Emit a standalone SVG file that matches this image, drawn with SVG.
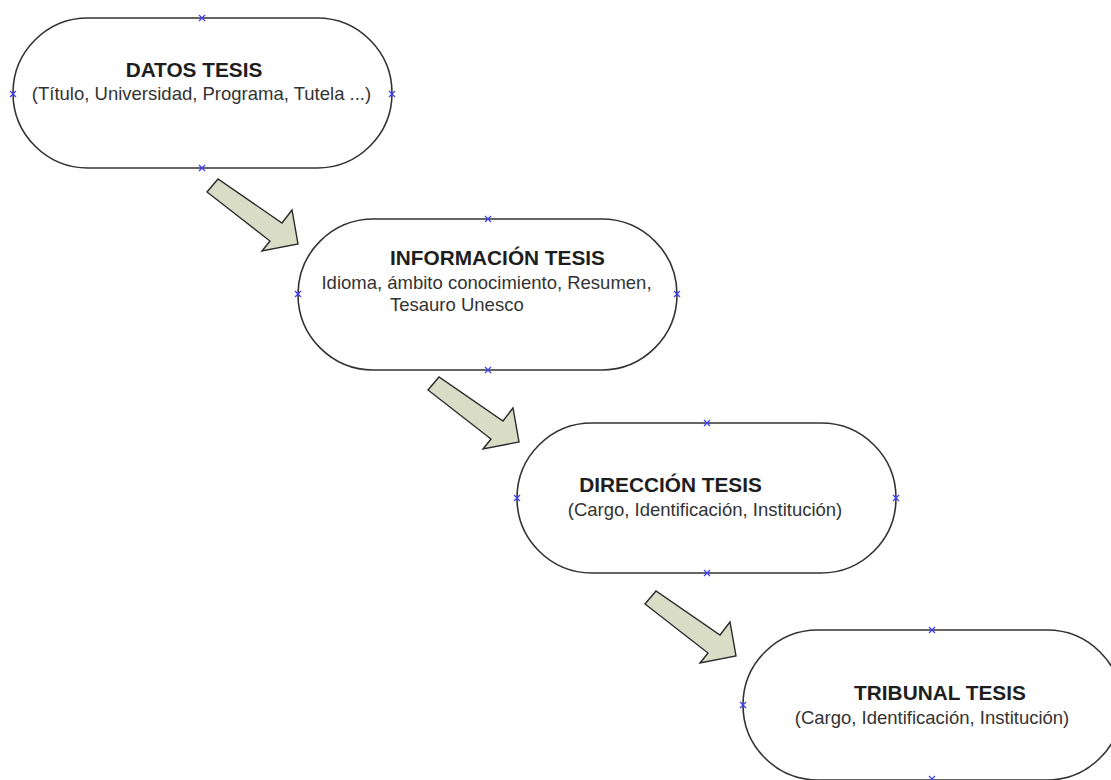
<svg xmlns="http://www.w3.org/2000/svg" xmlns:xlink="http://www.w3.org/1999/xlink" width="1111" height="780" viewBox="0 0 1111 780">
<style>
.node{fill:#ffffff;stroke:#333333;stroke-width:1.6}
.arrow{fill:#d9ddc6;stroke:#2a2a2a;stroke-width:1.4;stroke-linejoin:miter}
.title{font-family:"Liberation Sans",Arial,sans-serif;font-weight:bold;font-size:20.8px;fill:#1e1e1e;text-anchor:middle}
.sub{font-family:"Liberation Sans",Arial,sans-serif;font-size:18.5px;fill:#333333}
.mid{text-anchor:middle}
.xm{stroke:#3b3bff;stroke-width:1.2;fill:none}
</style>
<defs>
<path id="xm" class="xm" d="M-3,-3L3,3M-3,3L3,-3"/>
<polygon id="blk" class="arrow" points="207,192 218,179 282,223 292,210 298,244 262,251 270,241"/>
</defs>
<g id="connectors">
<use xlink:href="#blk"/>
<use xlink:href="#blk" transform="translate(221,198)"/>
<use xlink:href="#blk" transform="translate(438,412)"/>
</g>
<g id="node-datos">
<rect class="node" x="13" y="18" width="379" height="150" rx="75" ry="75"/>
<text class="title" x="194" y="77">DATOS TESIS</text>
<text class="sub mid" x="201.5" y="100">(Título, Universidad, Programa, Tutela ...)</text>
<use xlink:href="#xm" x="202" y="18"/><use xlink:href="#xm" x="202" y="168"/><use xlink:href="#xm" x="13" y="94"/><use xlink:href="#xm" x="392" y="94"/>
</g>
<g id="node-informacion">
<rect class="node" x="298" y="219" width="379" height="151" rx="75.5" ry="75.5"/>
<text class="title" x="497.5" y="265">INFORMACIÓN TESIS</text>
<text class="sub mid" x="486.5" y="289">Idioma, ámbito conocimiento, Resumen,</text>
<text class="sub" x="390" y="311">Tesauro Unesco</text>
<use xlink:href="#xm" x="488" y="219"/><use xlink:href="#xm" x="488" y="370"/><use xlink:href="#xm" x="298" y="294"/><use xlink:href="#xm" x="677" y="294"/>
</g>
<g id="node-direccion">
<rect class="node" x="517" y="423" width="379" height="150" rx="75" ry="75"/>
<text class="title" x="670.5" y="492">DIRECCIÓN TESIS</text>
<text class="sub mid" x="705" y="516">(Cargo, Identificación, Institución)</text>
<use xlink:href="#xm" x="707" y="423"/><use xlink:href="#xm" x="707" y="573"/><use xlink:href="#xm" x="517" y="498"/><use xlink:href="#xm" x="896" y="498"/>
</g>
<g id="node-tribunal">
<rect class="node" x="743" y="630" width="379" height="150" rx="75" ry="75"/>
<text class="title" x="940" y="700">TRIBUNAL TESIS</text>
<text class="sub mid" x="932" y="724">(Cargo, Identificación, Institución)</text>
<use xlink:href="#xm" x="932" y="630"/><use xlink:href="#xm" x="932" y="779"/><use xlink:href="#xm" x="743" y="705"/>
</g>
</svg>
